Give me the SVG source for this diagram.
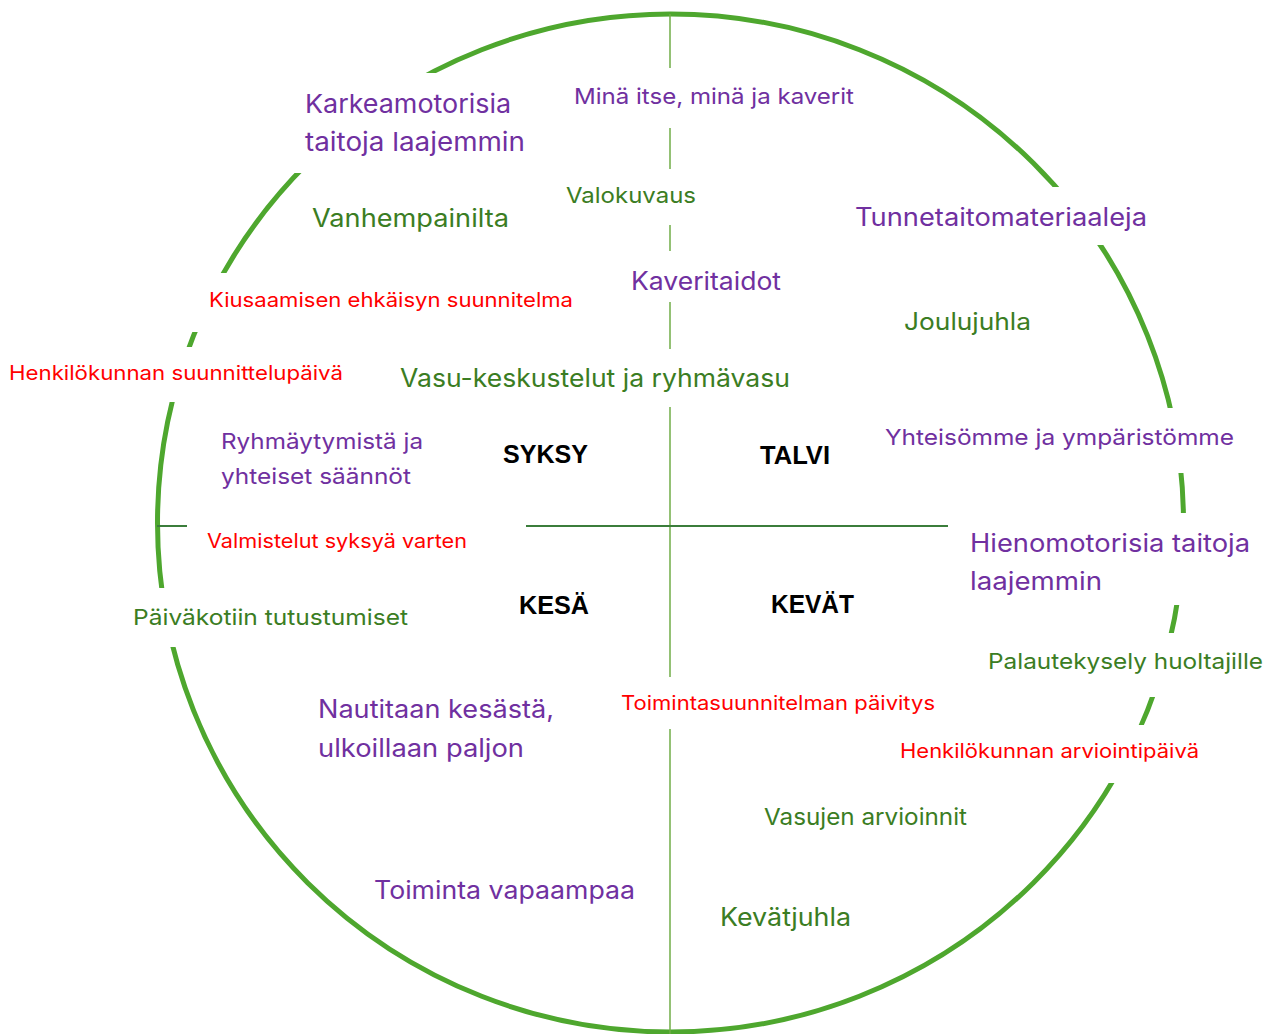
<svg xmlns="http://www.w3.org/2000/svg" width="1272" height="1034" viewBox="0 0 1272 1034">
<style>
text{font-family:Inter,"Open Sans","Liberation Sans",sans-serif}
.p{fill:#7030A0}
.g{fill:#3B7D23}
.r{fill:#FF0000}
.s{fill:#000;font-family:"Liberation Sans",Arial,sans-serif;font-weight:bold;font-size:25px}
.bg{fill:#fff}
</style>
<rect width="1272" height="1034" fill="#fff"/>
<g id="connectors">
<ellipse cx="670.5" cy="523" rx="513" ry="509" fill="none" stroke="#4EA72E" stroke-width="5"/>
<line x1="670" y1="14" x2="670" y2="1034" stroke="#70AD47" stroke-width="1.5"/>
<line x1="157" y1="526" x2="948" y2="526" stroke="#3B7D3B" stroke-width="2"/>
</g>
<g id="karkeamotorisia"><rect class="bg" x="290" y="73" width="250" height="100"/><text class="p" x="305" y="113" font-size="26" textLength="206" lengthAdjust="spacingAndGlyphs">Karkeamotorisia</text><text class="p" x="305" y="151" font-size="26" textLength="220" lengthAdjust="spacingAndGlyphs">taitoja laajemmin</text></g>
<g id="mina"><rect class="bg" x="565" y="68" width="300" height="60"/><text class="p" x="574" y="104" font-size="22" textLength="280" lengthAdjust="spacingAndGlyphs">Minä itse, minä ja kaverit</text></g>
<g id="valokuvaus"><rect class="bg" x="556" y="169" width="150" height="56"/><text class="g" x="566" y="203" font-size="22" textLength="130" lengthAdjust="spacingAndGlyphs">Valokuvaus</text></g>
<g id="vanhempainilta"><text class="g" x="312" y="227" font-size="25" textLength="197" lengthAdjust="spacingAndGlyphs">Vanhempainilta</text></g>
<g id="tunnetaito"><rect class="bg" x="845" y="187" width="315" height="58"/><text class="p" x="855" y="226" font-size="25" textLength="292" lengthAdjust="spacingAndGlyphs">Tunnetaitomateriaaleja</text></g>
<g id="kaveritaidot"><rect class="bg" x="620" y="251" width="170" height="51"/><text class="p" x="631" y="290" font-size="25" textLength="150" lengthAdjust="spacingAndGlyphs">Kaveritaidot</text></g>
<g id="kiusaaminen"><rect class="bg" x="185" y="273" width="395" height="59"/><text class="r" x="209" y="307" font-size="20" textLength="364" lengthAdjust="spacingAndGlyphs">Kiusaamisen ehkäisyn suunnitelma</text></g>
<g id="joulujuhla"><text class="g" x="904" y="330" font-size="24" textLength="127" lengthAdjust="spacingAndGlyphs">Joulujuhla</text></g>
<g id="suunnittelupaiva"><rect class="bg" x="0" y="347" width="350" height="55"/><text class="r" x="9" y="380" font-size="20" textLength="334" lengthAdjust="spacingAndGlyphs">Henkilökunnan suunnittelupäivä</text></g>
<g id="vasu"><rect class="bg" x="390" y="349" width="410" height="58"/><text class="g" x="400" y="387" font-size="25" textLength="390" lengthAdjust="spacingAndGlyphs">Vasu-keskustelut ja ryhmävasu</text></g>
<g id="ryhmaytyminen"><text class="p" x="221" y="449" font-size="22" textLength="202" lengthAdjust="spacingAndGlyphs">Ryhmäytymistä ja</text><text class="p" x="221" y="484" font-size="22" textLength="190" lengthAdjust="spacingAndGlyphs">yhteiset säännöt</text></g>
<g id="syksy"><text class="s" x="503" y="463" textLength="85" lengthAdjust="spacingAndGlyphs">SYKSY</text></g>
<g id="talvi"><text class="s" x="760" y="464" textLength="70" lengthAdjust="spacingAndGlyphs">TALVI</text></g>
<g id="yhteisomme"><rect class="bg" x="875" y="408" width="370" height="65"/><text class="p" x="885" y="445" font-size="22" textLength="349" lengthAdjust="spacingAndGlyphs">Yhteisömme ja ympäristömme</text></g>
<g id="valmistelut"><rect class="bg" x="187" y="515" width="339" height="55"/><text class="r" x="207" y="548" font-size="20" textLength="260" lengthAdjust="spacingAndGlyphs">Valmistelut syksyä varten</text></g>
<g id="hienomotorisia"><rect class="bg" x="960" y="513" width="300" height="92"/><text class="p" x="970" y="552" font-size="25" textLength="280" lengthAdjust="spacingAndGlyphs">Hienomotorisia taitoja</text><text class="p" x="970" y="590" font-size="25" textLength="132" lengthAdjust="spacingAndGlyphs">laajemmin</text></g>
<g id="kesa"><text class="s" x="519" y="614" textLength="70" lengthAdjust="spacingAndGlyphs">KESÄ</text></g>
<g id="kevat"><text class="s" x="771" y="613" textLength="83" lengthAdjust="spacingAndGlyphs">KEVÄT</text></g>
<g id="paivakoti"><rect class="bg" x="125" y="588" width="290" height="59"/><text class="g" x="133" y="625" font-size="22" textLength="275" lengthAdjust="spacingAndGlyphs">Päiväkotiin tutustumiset</text></g>
<g id="palautekysely"><rect class="bg" x="980" y="633" width="292" height="64"/><text class="g" x="988" y="669" font-size="22" textLength="275" lengthAdjust="spacingAndGlyphs">Palautekysely huoltajille</text></g>
<g id="toimintasuunnitelma"><rect class="bg" x="610" y="677" width="335" height="52"/><text class="r" x="621" y="710" font-size="20" textLength="314" lengthAdjust="spacingAndGlyphs">Toimintasuunnitelman päivitys</text></g>
<g id="nautitaan"><text class="p" x="318" y="718" font-size="25" textLength="236" lengthAdjust="spacingAndGlyphs">Nautitaan kesästä,</text><text class="p" x="318" y="757" font-size="25" textLength="206" lengthAdjust="spacingAndGlyphs">ulkoillaan paljon</text></g>
<g id="arviointipaiva"><rect class="bg" x="890" y="725" width="320" height="58"/><text class="r" x="900" y="758" font-size="20" textLength="299" lengthAdjust="spacingAndGlyphs">Henkilökunnan arviointipäivä</text></g>
<g id="vasujen"><text class="g" x="764" y="825" font-size="23" textLength="203" lengthAdjust="spacingAndGlyphs">Vasujen arvioinnit</text></g>
<g id="toiminta"><text class="p" x="374" y="899" font-size="25" textLength="261" lengthAdjust="spacingAndGlyphs">Toiminta vapaampaa</text></g>
<g id="kevatjuhla"><text class="g" x="720" y="926" font-size="25" textLength="131" lengthAdjust="spacingAndGlyphs">Kevätjuhla</text></g>
</svg>
